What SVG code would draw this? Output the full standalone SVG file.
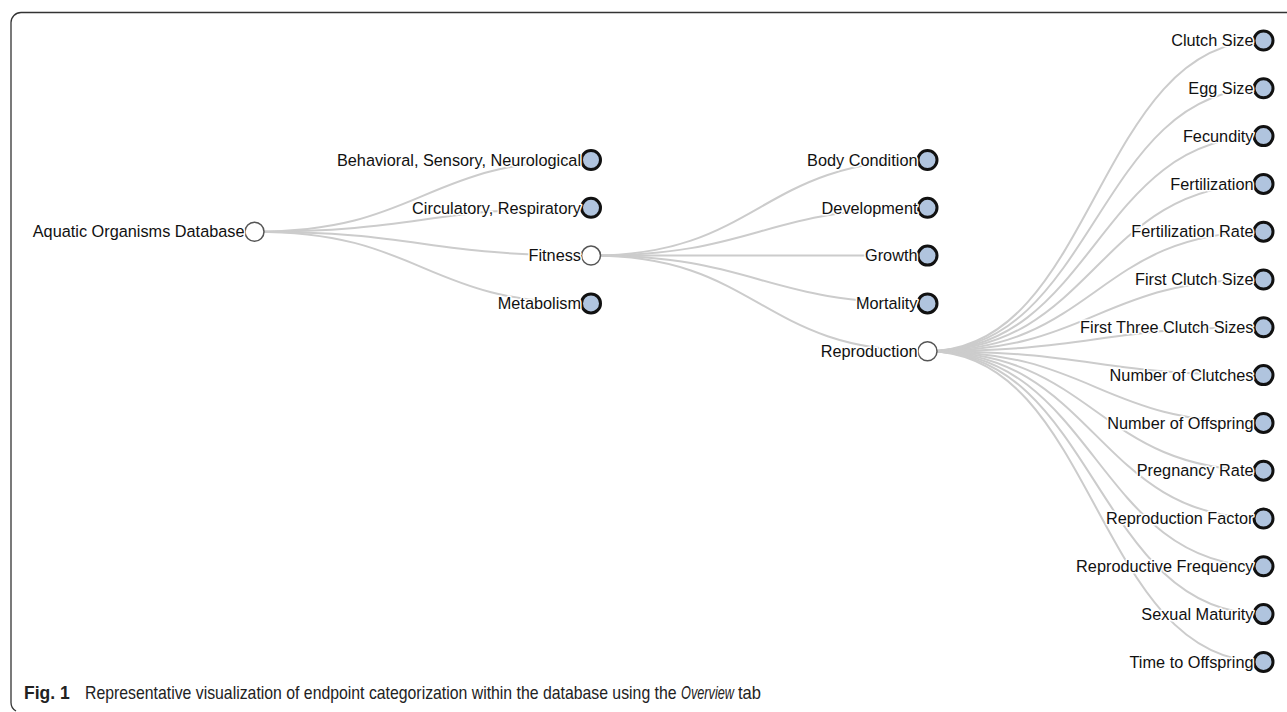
<svg xmlns="http://www.w3.org/2000/svg" width="1287" height="712" viewBox="0 0 1287 712">
<style>
.link{fill:none;stroke:#cccccc;stroke-width:2}
.leaf circle{fill:#b0c4de;stroke:#111;stroke-width:3}
.inner circle{fill:#fff;stroke:#555;stroke-width:1.5}
.node text{font-family:"Liberation Sans",Arial,sans-serif;font-size:16.3px;fill:#111;text-anchor:end;stroke:#fff;stroke-width:3;stroke-linejoin:round;paint-order:stroke}
.cap{font-family:"Liberation Sans",Arial,sans-serif;font-size:17.5px;fill:#222}
</style>
<rect width="1287" height="712" fill="#fff"/>
<path d="M1287,12.5 H21 A10,10 0 0 0 11,22.5 V702 A10,10 0 0 0 16,711" fill="none" stroke="#333" stroke-width="1.3"/>
<g id="links">
<path class="link" d="M254.5,231.7 C422.75,231.7 422.75,160 591,160"/>
<path class="link" d="M254.5,231.7 C422.75,231.7 422.75,207.8 591,207.8"/>
<path class="link" d="M254.5,231.7 C422.75,231.7 422.75,255.6 591,255.6"/>
<path class="link" d="M254.5,231.7 C422.75,231.7 422.75,303.4 591,303.4"/>
<path class="link" d="M591,255.6 C759.25,255.6 759.25,160 927.5,160"/>
<path class="link" d="M591,255.6 C759.25,255.6 759.25,207.8 927.5,207.8"/>
<path class="link" d="M591,255.6 C759.25,255.6 759.25,255.6 927.5,255.6"/>
<path class="link" d="M591,255.6 C759.25,255.6 759.25,303.4 927.5,303.4"/>
<path class="link" d="M591,255.6 C759.25,255.6 759.25,351.2 927.5,351.2"/>
<path class="link" d="M927.5,351.2 C1095.5,351.2 1095.5,40.5 1263.5,40.5"/>
<path class="link" d="M927.5,351.2 C1095.5,351.2 1095.5,88.3 1263.5,88.3"/>
<path class="link" d="M927.5,351.2 C1095.5,351.2 1095.5,136.1 1263.5,136.1"/>
<path class="link" d="M927.5,351.2 C1095.5,351.2 1095.5,183.9 1263.5,183.9"/>
<path class="link" d="M927.5,351.2 C1095.5,351.2 1095.5,231.7 1263.5,231.7"/>
<path class="link" d="M927.5,351.2 C1095.5,351.2 1095.5,279.5 1263.5,279.5"/>
<path class="link" d="M927.5,351.2 C1095.5,351.2 1095.5,327.3 1263.5,327.3"/>
<path class="link" d="M927.5,351.2 C1095.5,351.2 1095.5,375.1 1263.5,375.1"/>
<path class="link" d="M927.5,351.2 C1095.5,351.2 1095.5,422.9 1263.5,422.9"/>
<path class="link" d="M927.5,351.2 C1095.5,351.2 1095.5,470.7 1263.5,470.7"/>
<path class="link" d="M927.5,351.2 C1095.5,351.2 1095.5,518.5 1263.5,518.5"/>
<path class="link" d="M927.5,351.2 C1095.5,351.2 1095.5,566.3 1263.5,566.3"/>
<path class="link" d="M927.5,351.2 C1095.5,351.2 1095.5,614.1 1263.5,614.1"/>
<path class="link" d="M927.5,351.2 C1095.5,351.2 1095.5,661.9 1263.5,661.9"/>
</g>
<g id="n-root" class="node inner" transform="translate(254.5,231.7)"><circle r="9.5"/><text x="-10" dy="0.35em">Aquatic Organisms Database</text></g>
<g id="n-behavioral" class="node leaf" transform="translate(591,160)"><circle r="9.5"/><text x="-10" dy="0.35em">Behavioral, Sensory, Neurological</text></g>
<g id="n-circulatory" class="node leaf" transform="translate(591,207.8)"><circle r="9.5"/><text x="-10" dy="0.35em">Circulatory, Respiratory</text></g>
<g id="n-fitness" class="node inner" transform="translate(591,255.6)"><circle r="9.5"/><text x="-10" dy="0.35em">Fitness</text></g>
<g id="n-metabolism" class="node leaf" transform="translate(591,303.4)"><circle r="9.5"/><text x="-10" dy="0.35em">Metabolism</text></g>
<g id="n-body" class="node leaf" transform="translate(927.5,160)"><circle r="9.5"/><text x="-10" dy="0.35em">Body Condition</text></g>
<g id="n-development" class="node leaf" transform="translate(927.5,207.8)"><circle r="9.5"/><text x="-10" dy="0.35em">Development</text></g>
<g id="n-growth" class="node leaf" transform="translate(927.5,255.6)"><circle r="9.5"/><text x="-10" dy="0.35em">Growth</text></g>
<g id="n-mortality" class="node leaf" transform="translate(927.5,303.4)"><circle r="9.5"/><text x="-10" dy="0.35em">Mortality</text></g>
<g id="n-reproduction" class="node inner" transform="translate(927.5,351.2)"><circle r="9.5"/><text x="-10" dy="0.35em">Reproduction</text></g>
<g id="n-clutch" class="node leaf" transform="translate(1263.5,40.5)"><circle r="9.5"/><text x="-10" dy="0.35em">Clutch Size</text></g>
<g id="n-egg" class="node leaf" transform="translate(1263.5,88.3)"><circle r="9.5"/><text x="-10" dy="0.35em">Egg Size</text></g>
<g id="n-fecundity" class="node leaf" transform="translate(1263.5,136.1)"><circle r="9.5"/><text x="-10" dy="0.35em">Fecundity</text></g>
<g id="n-fertilization" class="node leaf" transform="translate(1263.5,183.9)"><circle r="9.5"/><text x="-10" dy="0.35em">Fertilization</text></g>
<g id="n-fertrate" class="node leaf" transform="translate(1263.5,231.7)"><circle r="9.5"/><text x="-10" dy="0.35em">Fertilization Rate</text></g>
<g id="n-firstclutch" class="node leaf" transform="translate(1263.5,279.5)"><circle r="9.5"/><text x="-10" dy="0.35em">First Clutch Size</text></g>
<g id="n-firstthree" class="node leaf" transform="translate(1263.5,327.3)"><circle r="9.5"/><text x="-10" dy="0.35em">First Three Clutch Sizes</text></g>
<g id="n-numclutches" class="node leaf" transform="translate(1263.5,375.1)"><circle r="9.5"/><text x="-10" dy="0.35em">Number of Clutches</text></g>
<g id="n-numoffspring" class="node leaf" transform="translate(1263.5,422.9)"><circle r="9.5"/><text x="-10" dy="0.35em">Number of Offspring</text></g>
<g id="n-pregnancy" class="node leaf" transform="translate(1263.5,470.7)"><circle r="9.5"/><text x="-10" dy="0.35em">Pregnancy Rate</text></g>
<g id="n-repfactor" class="node leaf" transform="translate(1263.5,518.5)"><circle r="9.5"/><text x="-10" dy="0.35em">Reproduction Factor</text></g>
<g id="n-repfreq" class="node leaf" transform="translate(1263.5,566.3)"><circle r="9.5"/><text x="-10" dy="0.35em">Reproductive Frequency</text></g>
<g id="n-sexual" class="node leaf" transform="translate(1263.5,614.1)"><circle r="9.5"/><text x="-10" dy="0.35em">Sexual Maturity</text></g>
<g id="n-timeoffspring" class="node leaf" transform="translate(1263.5,661.9)"><circle r="9.5"/><text x="-10" dy="0.35em">Time to Offspring</text></g>
<g id="caption">
<text class="cap" transform="translate(24,699)" font-weight="bold">Fig. 1</text>
<text class="cap" transform="translate(85,699) scale(0.904,1)">Representative visualization of endpoint categorization within the database using the</text>
<text class="cap" transform="translate(681,699) scale(0.727,1)" font-style="italic">Overview</text>
<text class="cap" transform="translate(738,699) scale(0.946,1)">tab</text>
</g>
</svg>
